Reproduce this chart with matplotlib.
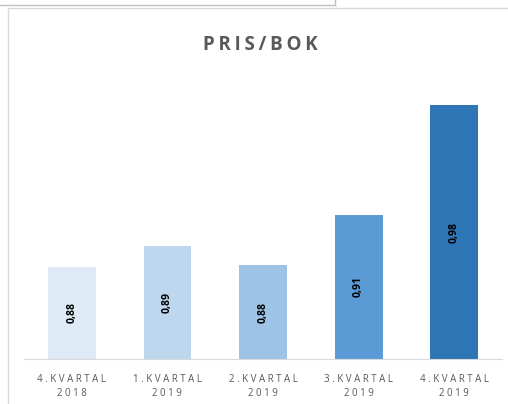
import matplotlib
matplotlib.use("Agg")
import matplotlib.pyplot as plt
from matplotlib.lines import Line2D

# Data (heights estimated, labels shown with 2 decimals)
quarters = ["4.KVARTAL\n2018", "1.KVARTAL\n2019", "2.KVARTAL\n2019",
            "3.KVARTAL\n2019", "4.KVARTAL\n2019"]
pb_values = [0.878, 0.891, 0.879, 0.911, 0.980]
bar_colors = ["#DEEBF7", "#BDD7EE", "#9DC3E6", "#5B9BD5", "#2E75B6"]

plt.rcParams['font.family'] = ['Open Sans', 'DejaVu Sans']

W, H = 508, 404
fig = plt.figure(figsize=(W / 100, H / 100), dpi=100)

# the chart frame and the bit of cell border above it
frame = "#D9D9D9"
fig.add_artist(Line2D([8 / W, 8 / W], [0, 1 - 8 / H], color=frame, lw=1))
fig.add_artist(Line2D([8 / W, 1], [1 - 8 / H, 1 - 8 / H], color=frame, lw=1))
fig.add_artist(Line2D([0, 335 / W], [1 - 5 / H, 1 - 5 / H], color="#BFBFBF", lw=1))
fig.add_artist(Line2D([335 / W, 335 / W], [1 - 5 / H, 1], color="#BFBFBF", lw=1))

ax = fig.add_axes([24 / W, 45 / H, 478 / W, 279 / H])
x = range(len(quarters))
ax.bar(x, pb_values, width=0.5, color=bar_colors, bottom=0)
ax.set_xlim(-0.5, len(quarters) - 0.5)
ylo = 0.82
ax.set_ylim(ylo, ylo + 279 / 1587)

for i, v in enumerate(pb_values):
    ax.text(i, (ylo + v) / 2, f"{v:.2f}".replace(".", ","), rotation=90,
            ha="center", va="center", fontsize=7.5, fontweight="bold",
            color="black")

for s in ["top", "right", "left"]:
    ax.spines[s].set_visible(False)
ax.spines["bottom"].set_color("#D9D9D9")
ax.set_yticks([])
ax.set_xticks(list(x))
spaced = ["\n".join(" ".join(part) for part in q.split("\n")) for q in quarters]
ax.set_xticklabels(spaced, fontsize=7, color="#595959", linespacing=1.3)
ax.tick_params(axis="x", length=0, pad=11)

fig.text(260 / W, 1 - 45 / H, "\u2009".join("PRIS/BOK"), ha="center",
         va="center", fontsize=13.5, fontweight="bold", color="#595959",
         family=["Open Sans", "DejaVu Sans"])

fig.savefig("out.png", dpi=100)
